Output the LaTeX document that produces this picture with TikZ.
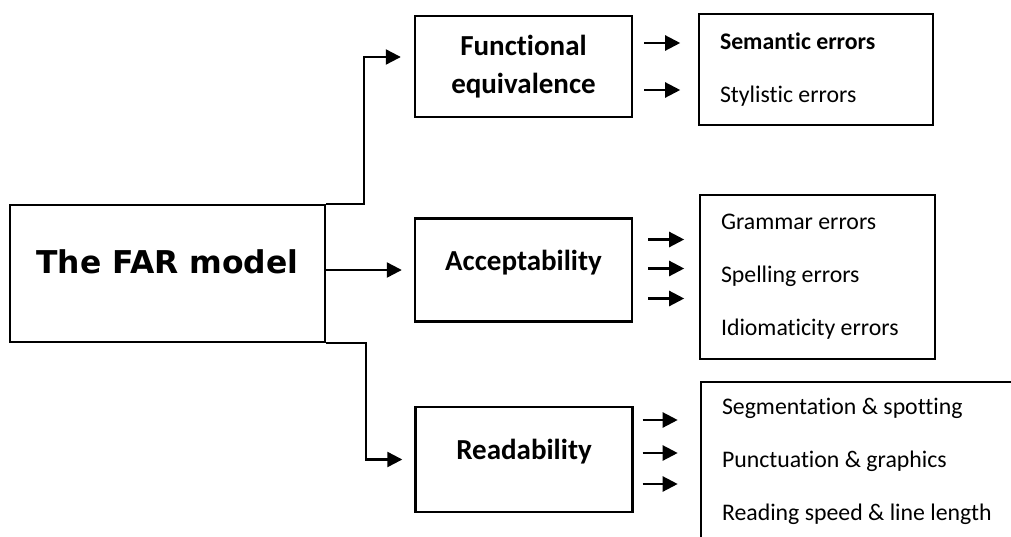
\documentclass[tikz,border=0pt]{standalone}
\usepackage{fontspec}
\setmainfont{Carlito}[Ligatures=NoCommon]
\newfontfamily\titlefont{DejaVu Sans}
\usetikzlibrary{arrows.meta}
\tikzstyle{model} = [rectangle, minimum width=315pt, minimum height=137pt, text height=0pt, text depth=0pt, draw=black, line width=2.4pt, font=\titlefont\bfseries\fontsize{31.4}{38}\selectfont]
\tikzstyle{criterion} = [rectangle, minimum width=217pt, minimum height=103pt, align=center, draw=black, line width=2.4pt, font=\bfseries\fontsize{29}{38}\selectfont]
\tikzstyle{single} = [text height=0pt, text depth=0pt]
\tikzstyle{errors} = [rectangle, inner xsep=21pt, align=flush left, draw=black, line width=2.4pt, font=\fontsize{23.8}{53}\selectfont]
\tikzstyle{arrow} = [line width=2.3pt, -{Triangle[length=15pt,width=15pt]}]

\begin{document}
\begin{tikzpicture}[node distance=356pt]
\useasboundingbox (-167.5pt,273.5pt) rectangle (843.5pt,-262.5pt);
\clip (-167.5pt,273.5pt) rectangle (843.5pt,-262.5pt);

% Model
\node (main) [model] at (0,0) {The FAR model};

% Criteria
\node (functional) [criterion, minimum height=101pt, right of=main, yshift=207pt] {Functional\\equivalence};
\node (acceptability) [criterion, single, right of=main, yshift=3.5pt] {Acceptability};
\node (readability) [criterion, single, minimum height=105pt, right of=main, xshift=0.5pt, yshift=-186pt] {Readability};

% Error types
\node (semantic) [errors, text width=192pt, minimum height=111pt, right of=functional, xshift=-63.5pt, yshift=-3pt] {\textbf{Semantic errors}\\Stylistic errors};
\node (grammar) [errors, text width=193pt, minimum height=164pt, right of=acceptability, xshift=-62pt, yshift=-7pt] {Grammar errors\\Spelling errors\\Idiomaticity errors};
\node (segmentation) [errors, text width=288pt, minimum height=158pt, right of=readability, xshift=-14pt, yshift=-1.5pt] {Segmentation \& spotting\\Punctuation \& graphics\\Reading speed \& line length};

% Arrows
\draw [arrow] (main.north east) -- ++(38pt,0) |- ([xshift=-13pt,yshift=9.5pt]functional.west);
\draw [arrow] ([yshift=3.5pt]main.east) -- ([xshift=-12pt]acceptability.west);
\draw [arrow] (main.south east) -- ++(40pt,0) |- ([xshift=-12pt]readability.west);
\foreach \dy in {23.5,-23.5}
  \draw [arrow] ([xshift=11pt,yshift=\dy pt]functional.east) -- ++(36pt,0);
\foreach \dy in {30.5,1.5,-28.5}
  \draw [arrow] ([xshift=15pt,yshift=\dy pt]acceptability.east) -- ++(36pt,0);
\foreach \dy in {39.5,6.5,-24.5}
  \draw [arrow] ([xshift=9pt,yshift=\dy pt]readability.east) -- ++(35pt,0);

\end{tikzpicture}
\end{document}
